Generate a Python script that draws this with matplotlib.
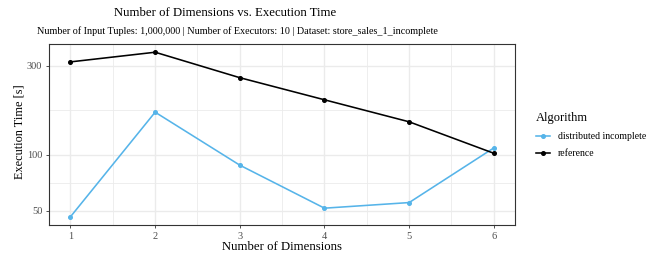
import matplotlib
matplotlib.use("Agg")
import matplotlib.pyplot as plt
import numpy as np
from matplotlib.ticker import FixedLocator, NullFormatter

plt.rcParams['font.family'] = ['Liberation Serif', 'DejaVu Serif']

dims = [1, 2, 3, 4, 5, 6]
distributed_incomplete = [46.3, 169, 87.7, 51.5, 55.2, 108.6]
reference = [315, 355, 259, 197, 150, 101.6]
y_ticks = [50, 100, 300]
y_minor = [70.7, 173.2]
series_names = ["distributed incomplete", "reference"]
colors = ["#56B4E9", "#000000"]

W, H = 656, 260
fig = plt.figure(figsize=(W / 100, H / 100), dpi=100)
L, R, T, B = 49.3, 515, 44, 225
ax = fig.add_axes([L / W, 1 - B / H, (R - L) / W, (B - T) / H])

for name, vals, c in zip(series_names, [distributed_incomplete, reference], colors):
    ax.plot(dims, vals, color=c, lw=1.15, marker='o', ms=2.6, label=name, zorder=3)

ax.set_yscale('log')
alld = np.log10(np.array(distributed_incomplete + reference))
lo, hi = alld.min(), alld.max()
pad = (hi - lo) * 0.05
ax.set_ylim(10 ** (lo - pad), 10 ** (hi + pad))
ax.set_xlim(1 - 0.25, 6 + 0.25)

ax.yaxis.set_major_locator(FixedLocator(y_ticks))
ax.yaxis.set_minor_locator(FixedLocator(y_minor))
ax.yaxis.set_minor_formatter(NullFormatter())
ax.set_yticklabels([str(v) for v in y_ticks])
ax.set_xticks(dims)
ax.set_xticks([1.5, 2.5, 3.5, 4.5, 5.5], minor=True)

ax.grid(True, which='major', color='#EBEBEB', lw=1.0, zorder=0)
ax.grid(True, which='minor', color='#EBEBEB', lw=0.6, zorder=0)
ax.set_axisbelow(True)
ax.tick_params(which='minor', length=0)
ax.tick_params(which='major', length=2.5, width=0.6, color='#333333',
               labelsize=7.5, labelcolor='#4D4D4D', pad=2.5)
for s in ax.spines.values():
    s.set_color('#333333')
    s.set_linewidth(0.8)

fig.text(282 / W, 1 - 247 / H, "Number of Dimensions", ha='center', va='center', fontsize=9.2)
fig.text(20 / W, 1 - 132 / H, "Execution Time [s]", ha='center', va='center', rotation=90, fontsize=8.8)
fig.text(225 / W, 1 - 12.5 / H, "Number of Dimensions vs. Execution Time", ha='center', va='center', fontsize=9.2)
fig.text(237.5 / W, 1 - 31 / H, "Number of Input Tuples: 1,000,000 | Number of Executors: 10 | Dataset: store_sales_1_incomplete",
         ha='center', va='center', fontsize=7.3)

leg = ax.legend(title="Algorithm", loc='upper left', bbox_to_anchor=(532 / W, 1 - 108 / H),
                bbox_transform=fig.transFigure, frameon=False, fontsize=7, title_fontsize=9,
                handlelength=1.4, handletextpad=0.9, labelspacing=0.85, borderaxespad=0)
leg._legend_box.align = "left"

fig.savefig("out.png", dpi=100)
